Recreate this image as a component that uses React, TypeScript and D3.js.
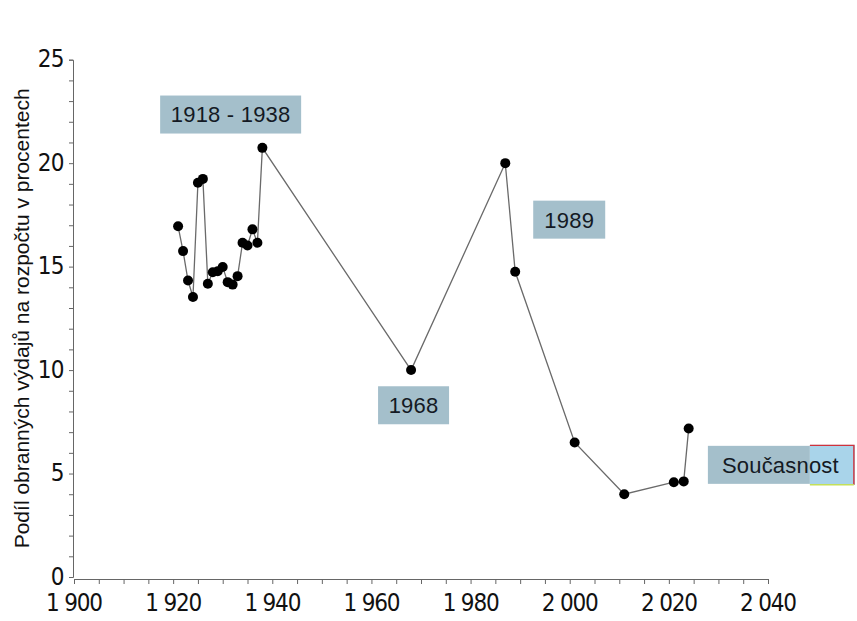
import { useRef, useEffect } from 'react';
import * as d3 from 'd3';

// share of defence spending in the state budget (%)
const years = [
  1921, 1922, 1923, 1924, 1925, 1926, 1927, 1928, 1929, 1930, 1931, 1932, 1933, 1934, 1935, 1936,
  1937, 1938, 1968, 1987, 1989, 2001, 2011, 2021, 2023, 2024,
];
const shares = [
  16.95, 15.75, 14.33, 13.53, 19.05, 19.24, 14.17, 14.73, 14.78, 14.98, 14.25, 14.13, 14.54, 16.15,
  16.02, 16.8, 16.15, 20.74, 10.0, 20.0, 14.75, 6.5, 4.0, 4.58, 4.62, 7.18,
];
const xTicks = [1900, 1920, 1940, 1960, 1980, 2000, 2020, 2040];
const yTicks = [0, 5, 10, 15, 20, 25];
const noteLabels = ['1918 - 1938', '1968', '1989', 'Současnost'];
const noteYears = [1931.6, 1968.5, 1999.9, 2042.5];
const noteValues = [22.35, 8.3, 17.27, 5.42];

const W = 857;
const H = 621;

export default function App() {
  const ref = useRef<HTMLDivElement | null>(null);

  useEffect(() => {
    if (!ref.current) return;
    d3.select(ref.current).selectAll('*').remove();
    const svg = d3
      .select(ref.current)
      .append('svg')
      .attr('width', W)
      .attr('height', H)
      .style('position', 'absolute')
      .style('left', 0)
      .style('top', 0);

    const x = d3.scaleLinear().domain([1900, 2040]).range([74, 768]);
    const y = d3.scaleLinear().domain([0, 25]).range([577, 59.7]);
    const axisColor = '#666';
    const tickFont = 'DejaVu Sans Condensed, DejaVu Sans, sans-serif';
    const labelFont = 'Liberation Sans, Arial, sans-serif';

    // y axis
    const gy = svg.append('g').attr('transform', 'translate(73,0)');
    gy.call(
      d3
        .axisLeft(y)
        .tickValues(d3.range(0, 26, 1))
        .tickSize(4)
        .tickFormat(() => '')
    );
    gy.select('.domain').attr('stroke', axisColor);
    gy.selectAll('.tick line').attr('stroke', axisColor);
    gy.selectAll('.tick text').remove();
    svg
      .append('g')
      .selectAll('text')
      .data(yTicks)
      .join('text')
      .attr('x', 64)
      .attr('y', (d) => y(d))
      .attr('dy', '0.32em')
      .attr('text-anchor', 'end')
      .attr('font-family', tickFont)
      .attr('font-size', 24)
      .attr('letter-spacing', -0.6)
      .attr('fill', '#111')
      .text((d) => String(d));

    // x axis
    const gx = svg.append('g').attr('transform', `translate(0,${y(0) + 2})`);
    gx.call(
      d3
        .axisBottom(x)
        .tickValues(d3.range(1900, 2041, 5))
        .tickSize(5)
        .tickSizeOuter(0)
        .tickFormat(() => '')
    );
    gx.select('.domain').attr('stroke', axisColor);
    gx.selectAll('.tick line').attr('stroke', axisColor);
    gx.selectAll('.tick text').remove();
    svg
      .append('g')
      .selectAll('text')
      .data(xTicks)
      .join('text')
      .attr('x', (d) => x(d))
      .attr('y', 611)
      .attr('text-anchor', 'middle')
      .attr('font-family', tickFont)
      .attr('font-size', 24)
      .attr('letter-spacing', -1.2)
      .attr('fill', '#111')
      .text((d) => d3.format(',')(d).replace(',', ' '));

    // y axis title
    svg
      .append('text')
      .attr('transform', `translate(29,${(y(0) + y(25)) / 2}) rotate(-90)`)
      .attr('text-anchor', 'middle')
      .attr('font-family', labelFont)
      .attr('font-size', 21)
      .attr('fill', '#111')
      .text('Podíl obranných výdajů na rozpočtu v procentech');

    // line + points
    const pts = years.map((yr, i) => [yr, shares[i]] as [number, number]);
    const line = d3
      .line<[number, number]>()
      .x((d) => x(d[0]))
      .y((d) => y(d[1]));
    svg
      .append('path')
      .attr('d', line(pts))
      .attr('fill', 'none')
      .attr('stroke', '#6a6a6a')
      .attr('stroke-width', 1.3);
    svg
      .append('g')
      .selectAll('circle')
      .data(pts)
      .join('circle')
      .attr('cx', (d) => x(d[0]))
      .attr('cy', (d) => y(d[1]))
      .attr('r', 5)
      .attr('fill', '#000');

    // annotation boxes
    const boxW = [141, 71, 72, 102];
    const boxH = 38;
    noteLabels.forEach((label, i) => {
      const cx = x(noteYears[i]);
      const cy = y(noteValues[i]);
      const w = boxW[i];
      const left = i === 3 ? cx - 72.5 : cx - w / 2;
      svg
        .append('rect')
        .attr('x', left)
        .attr('y', cy - boxH / 2)
        .attr('width', w)
        .attr('height', boxH)
        .attr('fill', '#a4bfcb');
      if (i === 3) {
        // lighter overlapping box cut by the right edge
        const lx = left + w;
        svg
          .append('rect')
          .attr('x', lx)
          .attr('y', cy - boxH / 2 - 1)
          .attr('width', 45)
          .attr('height', boxH + 2)
          .attr('fill', '#a9d4ea');
        svg
          .append('path')
          .attr('d', `M${lx},${cy - boxH / 2 - 0.5}H${lx + 44}V${cy + boxH / 2 + 1}`)
          .attr('fill', 'none')
          .attr('stroke', '#d0323c')
          .attr('stroke-width', 1.4);
        svg
          .append('line')
          .attr('x1', lx)
          .attr('x2', lx + 44)
          .attr('y1', cy + boxH / 2 + 1)
          .attr('y2', cy + boxH / 2 + 1)
          .attr('stroke', '#c4e05a')
          .attr('stroke-width', 1.5);
      }
      svg
        .append('text')
        .attr('x', cx)
        .attr('y', cy)
        .attr('dy', '0.36em')
        .attr('text-anchor', 'middle')
        .attr('font-family', labelFont)
        .attr('font-size', 22)
        .attr('letter-spacing', 0.2)
        .attr('fill', '#141a24')
        .text(label);
    });
  }, []);

  return <div ref={ref} />;
}
